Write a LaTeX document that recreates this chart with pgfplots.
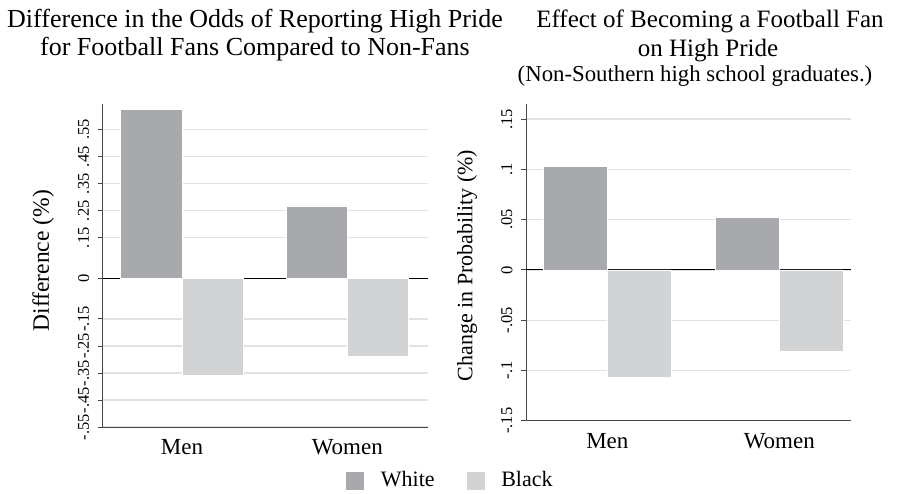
\documentclass[border=0pt]{standalone}
\usepackage{fontspec}
\setmainfont{Liberation Serif}
\usepackage{pgfplots}
\pgfplotsset{compat=1.18}
\definecolor{barW}{RGB}{168,169,173}
\definecolor{barB}{RGB}{210,211,213}
\definecolor{gridc}{RGB}{226,226,226}
\definecolor{axc}{RGB}{70,70,70}
\begin{document}
\begin{tikzpicture}
\useasboundingbox (0pt,0pt) rectangle (901pt,-494pt);
\pgfplotsset{
  common/.style={
    scale only axis,
    axis x line*=bottom, axis y line*=left,
    axis line style={axc, line width=1pt, -},
    xtick={0,1}, xticklabels={Men,Women},
    x tick label style={font=\fontsize{23}{23}\selectfont},
    xticklabel shift=4pt,
    xtick style={draw=none},
    ytick style={axc, line width=0.8pt},
    major tick length=5pt,
    tick align=outside,
    y tick label style={rotate=90, anchor=south, font=\fontsize{16.5}{16.5}\selectfont},
    yticklabel shift=5pt,
    ymajorgrids, major grid style={gridc, line width=1.3pt},
    extra y ticks={0}, extra y tick labels={},
    extra y tick style={grid=major, major grid style={black, line width=1pt}},
    ybar,
    clip=false,
  }
}
\begin{axis}[common,
  at={(102.7pt,-427pt)}, anchor=south west,
  width=325.3pt, height=323pt,
  xmin=-0.48, xmax=1.488, ymin=-0.55, ymax=0.645,
  ytick={-0.55,-0.45,-0.35,-0.25,-0.15,0,0.15,0.25,0.35,0.45,0.55},
  yticklabels={-.55,-.45,-.35,-.25,-.15,0,.15,.25,.35,.45,.55},
  ylabel={Difference (\%)},
  label style={font=\fontsize{23.5}{23.5}\selectfont},
  every axis y label/.append style={at={(axis description cs:-0.1835,0.515)}, anchor=center},
  bar width=0.371,
  legend style={at={(axis description cs:1.069,-0.164)}, anchor=center, draw=none, fill=none,
    legend columns=2, font=\fontsize{22}{22}\selectfont,
    /tikz/every odd column/.append style={column sep=15pt},
    /tikz/every even column/.append style={column sep=30pt}},
]
\addplot[fill=barW, draw=white, line width=0.6pt, bar shift=-0.1855,
  legend image code/.code={\fill[barW] (0pt,-9pt) rectangle (17pt,8pt);}]
  coordinates {(0,0.624) (1,0.268)};
\addplot[fill=barB, draw=white, line width=0.6pt, bar shift=0.1855,
  legend image code/.code={\fill[barB] (0pt,-9pt) rectangle (17pt,8pt);}]
  coordinates {(0,-0.357) (1,-0.287)};
\legend{White,Black}
\end{axis}
\begin{axis}[common,
  at={(526pt,-420.7pt)}, anchor=south west,
  width=325pt, height=316.7pt,
  xmin=-0.473, xmax=1.417, ymin=-0.15, ymax=0.165,
  ytick={-0.15,-0.1,-0.05,0,0.05,0.1,0.15},
  yticklabels={-.15,-.1,-.05,0,.05,.1,.15},
  ylabel={Change in Probability (\%)},
  label style={font=\fontsize{22}{22}\selectfont},
  every axis y label/.append style={at={(axis description cs:-0.1815,0.49)}, anchor=center},
  bar width=0.372,
]
\addplot[fill=barW, draw=white, line width=0.6pt, bar shift=-0.186]
  coordinates {(0,0.103) (1,0.052)};
\addplot[fill=barB, draw=white, line width=0.6pt, bar shift=0.186]
  coordinates {(0,-0.107) (1,-0.081)};
\end{axis}
\node[anchor=base, font=\fontsize{26}{26}\selectfont] at (255pt,-28pt) {Difference in the Odds of Reporting High Pride};
\node[anchor=base, font=\fontsize{26}{26}\selectfont] at (255pt,-56pt) {for Football Fans Compared to Non-Fans};
\node[anchor=base, font=\fontsize{25}{25}\selectfont] at (710pt,-28pt) {Effect of Becoming a Football Fan};
\node[anchor=base, font=\fontsize{25}{25}\selectfont] at (708pt,-57pt) {on High Pride};
\node[anchor=base, font=\fontsize{22.8}{22.8}\selectfont] at (695pt,-82pt) {(Non-Southern high school graduates.)};
\end{tikzpicture}
\end{document}
